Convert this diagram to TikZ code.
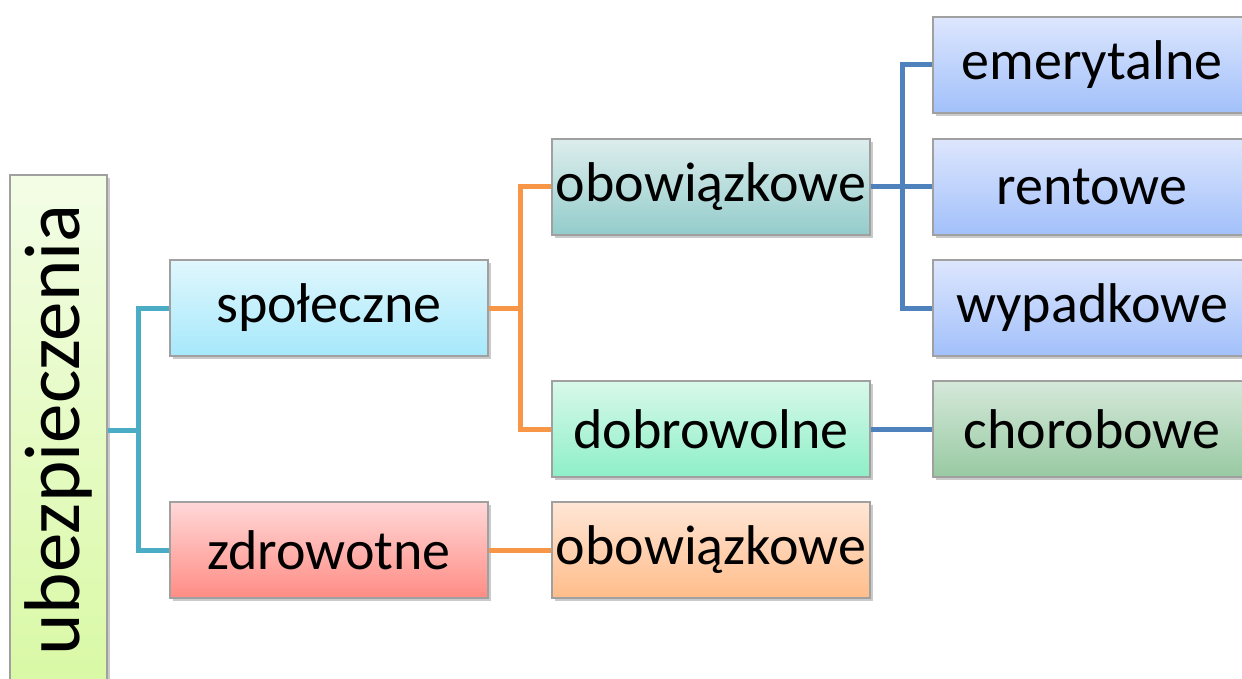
\documentclass[tikz,border=0pt]{standalone}
\usepackage[RGB]{xcolor}
\usepackage{fontspec}
\usepackage{graphicx}
\usepackage{tikz}
\usetikzlibrary{shadows}
\setmainfont{Carlito}
\definecolor{rootT}{RGB}{243,253,230}
\definecolor{rootB}{RGB}{217,249,165}
\definecolor{spolT}{RGB}{224,247,253}
\definecolor{spolB}{RGB}{166,232,251}
\definecolor{zdrT}{RGB}{255,216,216}
\definecolor{zdrB}{RGB}{255,140,132}
\definecolor{obowT}{RGB}{221,237,237}
\definecolor{obowB}{RGB}{147,204,203}
\definecolor{dobrT}{RGB}{216,248,234}
\definecolor{dobrB}{RGB}{142,239,200}
\definecolor{orT}{RGB}{255,230,214}
\definecolor{orB}{RGB}{255,189,138}
\definecolor{blT}{RGB}{221,230,253}
\definecolor{blB}{RGB}{162,192,250}
\definecolor{chorT}{RGB}{213,232,218}
\definecolor{chorB}{RGB}{152,201,162}
\definecolor{C}{RGB}{75,172,198}
\definecolor{O}{RGB}{247,150,70}
\definecolor{B}{RGB}{79,129,189}
\definecolor{frame}{RGB}{160,160,160}
\newcommand{\boxfont}{\fontsize{56}{60}\selectfont}
\newcommand{\rootfont}{\fontsize{79}{82}\selectfont}
\newcommand{\linkdraw}[1]{\draw[line width=5pt,#1]}
\tikzset{
  box/.style={draw=frame, line width=1.2pt, minimum width=318pt, minimum height=96pt,
    inner sep=0pt, font=\boxfont,
    drop shadow={shadow xshift=2.5pt, shadow yshift=-3pt, opacity=.35, fill=black!60}},
  shade/.style 2 args={top color=#1, bottom color=#2}
}

\begin{document}
\begin{tikzpicture}[x=1pt,y=-1pt]
\useasboundingbox (0,0) rectangle (1242,679);
\node[box, shade={rootT}{rootB}, minimum width=97pt, minimum height=510pt, font=\rootfont] (root) at (58.5,430) {\rotatebox{90}{ubezpieczenia}};
\node[box, shade={spolT}{spolB}] (spol) at (329,308) {społeczne};
\node[box, shade={zdrT}{zdrB}] (zdrow) at (329,550) {zdrowotne};
\node[box, shade={obowT}{obowB}] (obow) at (711,187) {obowiązkowe};
\node[box, shade={dobrT}{dobrB}] (dobr) at (711,429) {dobrowolne};
\node[box, shade={orT}{orB}] (obowz) at (711,550) {obowiązkowe};
\node[box, shade={blT}{blB}] (emer) at (1092,65) {emerytalne};
\node[box, shade={blT}{blB}] (rent) at (1092,187) {rentowe};
\node[box, shade={blT}{blB}] (wyp) at (1092,308) {wypadkowe};
\node[box, shade={chorT}{chorB}] (chor) at (1092,429) {chorobowe};
\linkdraw{C} (root.east) -- ++(31,0) |- (spol.west);
\linkdraw{C} (root.east) -- ++(31,0) |- (zdrow.west);
\linkdraw{O} (spol.east) -- ++(32,0) |- (obow.west);
\linkdraw{O} (spol.east) -- ++(32,0) |- (dobr.west);
\linkdraw{O} (zdrow.east) -- (obowz.west);
\linkdraw{B} (obow.east) -- ++(32,0) |- (emer.west);
\linkdraw{B} (obow.east) -- ++(32,0) |- (rent.west);
\linkdraw{B} (obow.east) -- ++(32,0) |- (wyp.west);
\linkdraw{B} (dobr.east) -- (chor.west);
\end{tikzpicture}
\end{document}
